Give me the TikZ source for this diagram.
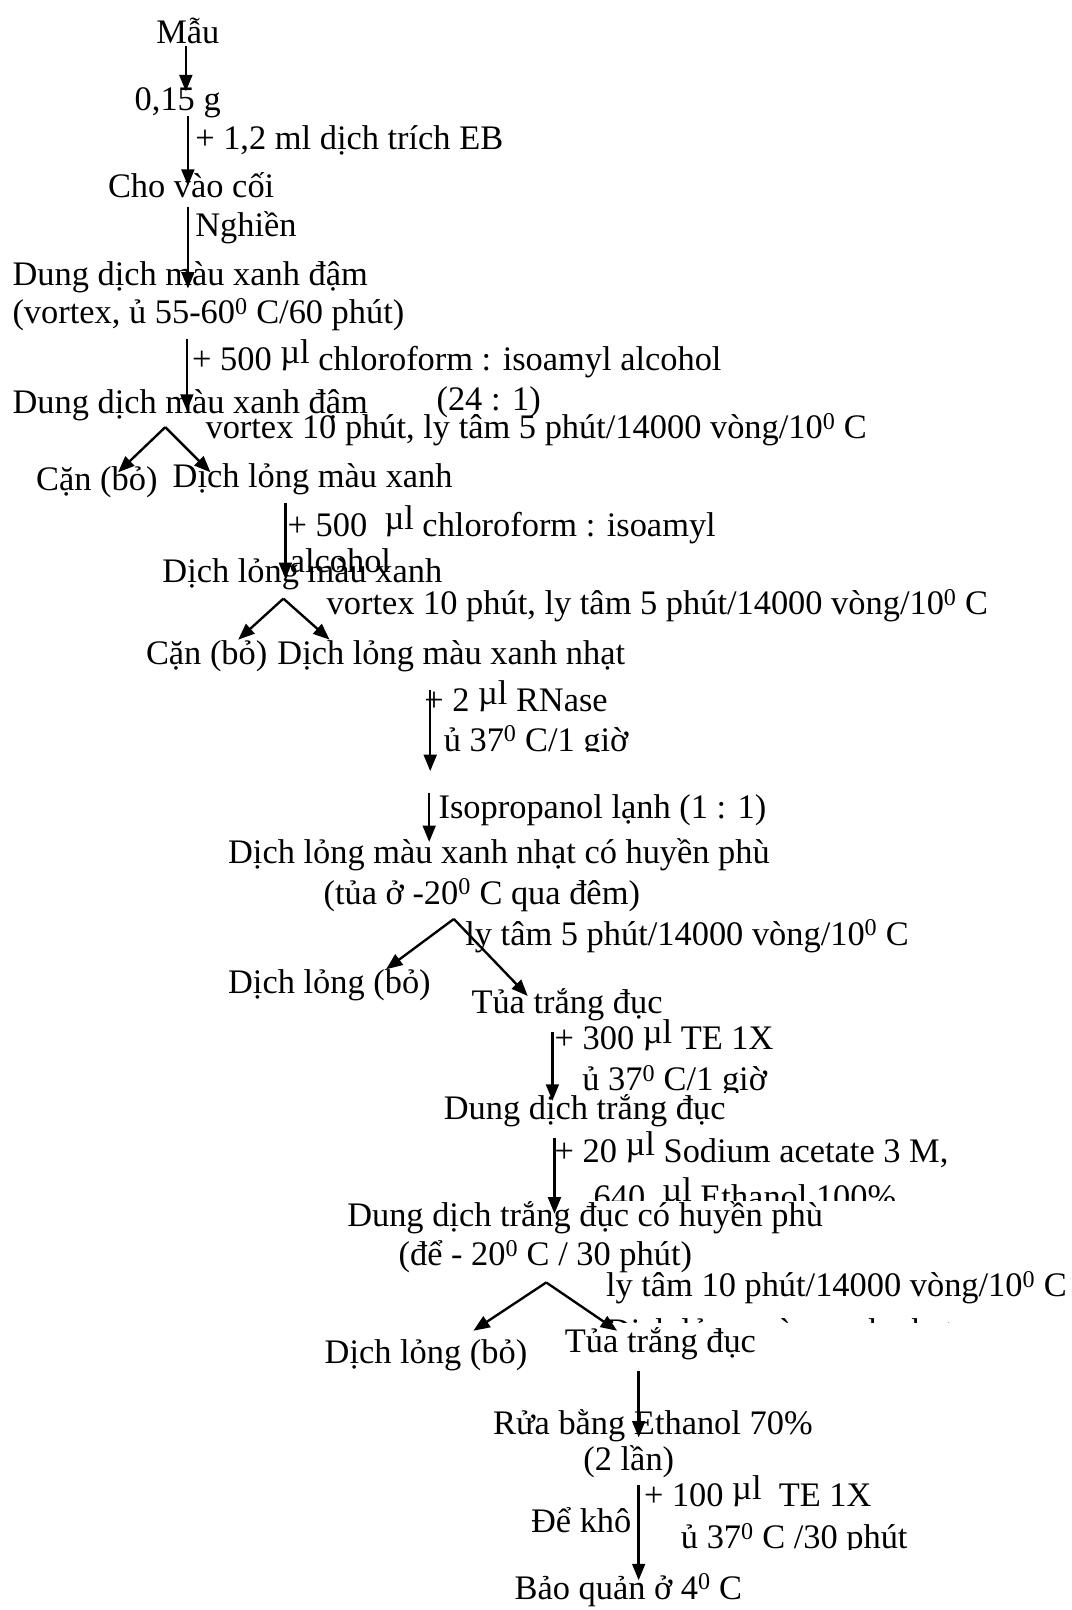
\documentclass[tikz,border=0pt]{standalone}
\usepackage{fontspec}
\setmainfont{Liberation Serif}
\usetikzlibrary{arrows.meta}
\newcommand{\mul}{\raisebox{0.2em}{µl}}
\newcommand{\dg}{\textsuperscript{0}}
\tikzset{
  txt/.style={inner sep=0pt, anchor=base west, yshift=-2.5pt, font=\fontsize{33.5}{38}\selectfont},
  ctxt/.style={txt, yshift=0pt},
  arr/.style={line width=2.3pt, -{Triangle[length=16pt,width=12.5pt]}},
}
\begin{document}
\begin{tikzpicture}[x=1pt,y=-1pt]
\useasboundingbox[fill=white] (0,0) rectangle (1044,1568);
% texts
\node[txt] (t1) at (152,40) {Mẫu};
\node[txt] (t2) at (131,105) {0,15 g};
\node[txt] (t3) at (190,143) {+ 1,2 ml dịch trích EB};
\node[txt] (t4) at (105,190) {Cho vào cối};
\node[txt] (t5) at (190,228) {Nghiền};
\node[txt] (t6) at (12,276) {Dung dịch màu xanh đậm};
\node[txt] (t7) at (12,313) {(vortex, ủ 55-60\dg{} C/60 phút)};
\node[txt] (t8) at (187,358) {+ 500 \mul{} chloroform : isoamyl alcohol};
\node[txt] (t9) at (12,400) {Dung dịch màu xanh đậm};
\node[txt] (t10) at (425,397) {(24 : 1)};
\node[txt] (t11) at (200,425) {vortex 10 phút, ly tâm 5 phút/14000 vòng/10\dg{} C};
\node[txt] (t12) at (35,475) {Cặn (bỏ)};
\node[txt] (t13) at (168,472) {Dịch lỏng màu xanh};
\node[txt] (t14) at (280,520) {+ 500 \ \mul{} chloroform : isoamyl};
\node[txt] (t15) at (282,555) {alcohol};
\node[txt] (t16) at (158,565) {Dịch lỏng màu xanh};
\node[txt] (t17) at (318,596) {vortex 10 phút, ly tâm 5 phút/14000 vòng/10\dg{} C};
\node[txt] (t18) at (142,645) {Cặn (bỏ)};
\node[txt] (t19) at (270,645) {Dịch lỏng màu xanh nhạt};
\node[txt] (t20) at (413,690) {+ 2 \mul{} RNase};
\begin{scope}
\clip (400,695) rectangle (700,732);
\node[ctxt] (t21) at (432,729) {ủ 37\dg{} C/1 giờ};
\end{scope}
\node[txt] (t22) at (427,795) {Isopropanol lạnh (1 : 1)};
\node[txt] (t23) at (222,838) {Dịch lỏng màu xanh nhạt có huyền phù};
\node[txt] (t24) at (315,878) {(tủa ở -20\dg{} C qua đêm)};
\node[txt] (t25) at (453,918) {ly tâm 5 phút/14000 vòng/10\dg{} C};
\node[txt] (t26) at (222,965) {Dịch lỏng (bỏ)};
\node[txt] (t27) at (459,985) {Tủa trắng đục};
\node[txt] (t28) at (540,1020) {+ 300 \mul{} TE 1X};
\begin{scope}
\clip (540,1027) rectangle (800,1064);
\node[ctxt] (t29) at (567,1060) {ủ 37\dg{} C/1 giờ};
\end{scope}
\node[txt] (t30) at (432,1088) {Dung dịch trắng đục};
\node[txt] (t31) at (540,1130) {+ 20 \mul{} Sodium acetate 3 M,};
\begin{scope}
\clip (560,1137) rectangle (900,1169);
\node[ctxt] (t32) at (578,1174) {640 \ \mul{} Ethanol 100\%};
\end{scope}
\node[txt] (t33) at (338,1192) {Dung dịch trắng đục có huyền phù};
\node[txt] (t34) at (388,1230) {(để - 20\dg{} C / 30 phút)};
\node[txt] (t35) at (590,1260) {ly tâm 10 phút/14000 vòng/10\dg{} C};
\begin{scope}
\clip (580,1272) rectangle (960,1288);
\node[ctxt] (t36) at (590,1305) {Dịch lỏng màu xanh nhạt};
\end{scope}
\node[txt] (t37) at (316,1325) {Dịch lỏng (bỏ)};
\node[txt] (t38) at (550,1315) {Tủa trắng đục};
\node[txt] (t39) at (480,1395) {Rửa bằng Ethanol 70\%};
\node[txt] (t40) at (568,1430) {(2 lần)};
\node[txt] (t41) at (627,1465) {+ 100 \mul{} \ TE 1X};
\begin{scope}
\clip (640,1474) rectangle (920,1509);
\node[ctxt] (t42) at (663,1506) {ủ 37\dg{} C /30 phút};
\end{scope}
\node[txt] (t43) at (517,1490) {Để khô};
\node[txt] (t44) at (501,1555) {Bảo quản ở 4\dg{} C};
% connector coordinates
\coordinate (a1s) at (181,45);  \coordinate (a1e) at (181,89);
\coordinate (a2s) at (183,113); \coordinate (a2e) at (183,181);
\coordinate (a3s) at (183,202); \coordinate (a3e) at (183,281);
\coordinate (a4s) at (182,330); \coordinate (a4e) at (182,400);
\coordinate (s1) at (161,416); \coordinate (s1l) at (115,460); \coordinate (s1r) at (205,460);
\coordinate (a5s) at (278,490); \coordinate (a5e) at (278,564);
\coordinate (s2) at (276,583); \coordinate (s2l) at (232,623); \coordinate (s2r) at (321,623);
\coordinate (a6s) at (419,672); \coordinate (a6e) at (419,751);
\coordinate (a7s) at (418,772); \coordinate (a7e) at (418,820);
\coordinate (s3) at (442,895); \coordinate (s3l) at (376,944); \coordinate (s3r) at (514,970);
\coordinate (a8s) at (538,1005); \coordinate (a8e) at (538,1072);
\coordinate (a9s) at (540,1108); \coordinate (a9e) at (540,1182);
\coordinate (s4) at (532,1249); \coordinate (s4l) at (461,1296); \coordinate (s4r) at (601,1296);
\coordinate (a10s) at (622,1335); \coordinate (a10e) at (622,1400);
\coordinate (a11s) at (622,1446); \coordinate (a11e) at (622,1539);
% connectors
\draw[arr] (a1s) -- (a1e);
\draw[arr] (a2s) -- (a2e);
\draw[arr] (a3s) -- (a3e);
\draw[arr] (a4s) -- (a4e);
\draw[arr] (s1) -- (s1l);
\draw[arr] (s1) -- (s1r);
\draw[arr] (a5s) -- (a5e);
\draw[arr] (s2) -- (s2l);
\draw[arr] (s2) -- (s2r);
\draw[arr] (a6s) -- (a6e);
\draw[arr] (a7s) -- (a7e);
\draw[arr] (s3) -- (s3l);
\draw[arr] (s3) -- (s3r);
\draw[arr] (a8s) -- (a8e);
\draw[arr] (a9s) -- (a9e);
\draw[arr] (s4) -- (s4l);
\draw[arr] (s4) -- (s4r);
\draw[arr] (a10s) -- (a10e);
\draw[arr] (a11s) -- (a11e);
\end{tikzpicture}
\end{document}
